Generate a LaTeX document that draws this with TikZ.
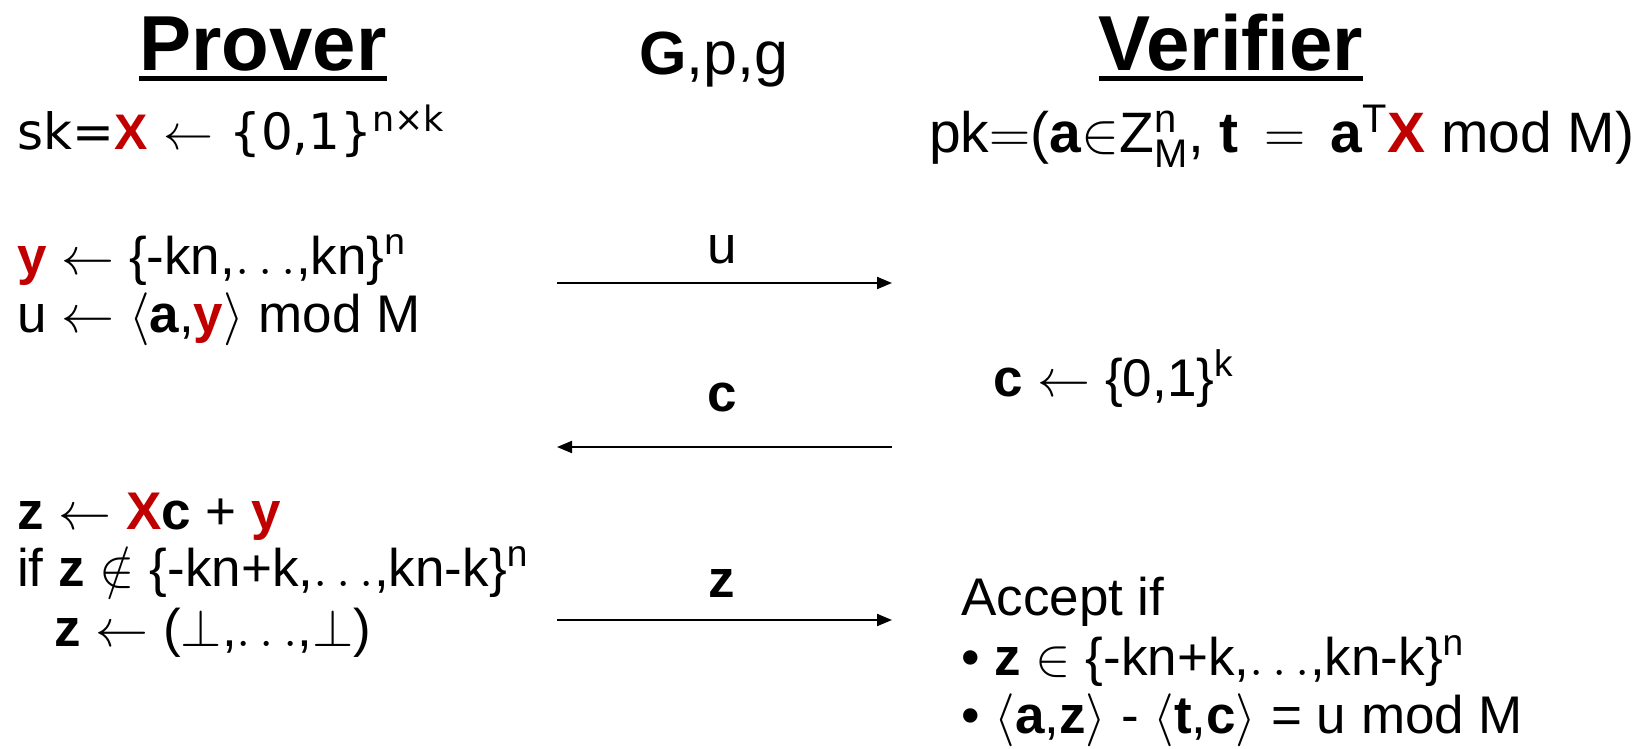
\RequirePackage{fix-cm}
\documentclass[tikz,border=0pt]{standalone}
\usepackage{amsmath}
\usepackage{fontspec}
\setmainfont{Liberation Sans}
\newfontfamily\keyfont{DejaVu Sans}
\usetikzlibrary{arrows.meta}
\definecolor{secret}{RGB}{192,0,0}
\newcommand{\sx}[1]{{\color{secret}\textbf{#1}}}
\newcommand{\bfa}[1]{{\fontspec{Liberation Sans}\bfseries #1}}
\newcommand{\la}{\ensuremath{\leftarrow}}
\begin{document}
\begin{tikzpicture}[x=1pt,y=-1pt,
  txt/.style={anchor=base west,inner sep=0pt,font=\fontsize{53}{63}\selectfont},
  keytxt/.style={anchor=base west,inner sep=0pt,font=\fontsize{50}{60}\selectfont\keyfont},
  pktxt/.style={anchor=base west,inner sep=0pt,font=\fontsize{57}{67}\selectfont},
  head/.style={anchor=base,inner sep=0pt,font=\fontsize{78}{90}\selectfont\bfseries},
  lbl/.style={anchor=base,inner sep=0pt,font=\fontsize{53}{63}\selectfont},
  ul/.style={line width=5pt},
  msg/.style={line width=2pt,-{Triangle[length=15pt,width=12pt]}}]
\useasboundingbox (0,0) rectangle (1642,749);
% headers
\node[head] (prover) at (263,71) {Prover};
\draw[ul] ([yshift=-8pt]prover.base west) -- ([yshift=-8pt]prover.base east);
\node[head] (verifier) at (1231,71) {Verifier};
\draw[ul] ([yshift=-8pt]verifier.base west) -- ([yshift=-8pt]verifier.base east);
\node[txt,font=\fontsize{61}{70}\selectfont] (params) at (639,75) {\textbf{G},p,g};
% keys
\node[keytxt] (sk) at (17,150) {sk=\bfa{\color{secret}X} \la{} \{0,1\}\textsuperscript{n×k}};
\node[pktxt] (pk) at (929,153) {pk$=$(\textbf{a}$\in$Z$^{\text{n}}_{\text{M}}$, \textbf{t} \,$=$\, \textbf{a}\textsuperscript{T}\sx{X} mod M)};
% prover commit
\node[txt] (ydraw) at (17,274) {\sx{y} \la{} \{-kn,$\ldots$,kn\}\textsuperscript{n}};
\node[txt] (ucomp) at (17,332) {u \la{} $\langle$\textbf{a},\sx{y}$\rangle$ mod M};
% verifier challenge
\node[txt] (cdraw) at (993,396) {\textbf{c} \la{} \{0,1\}\textsuperscript{k}};
% prover response
\node[txt] (zcomp) at (17,529) {\textbf{z} \la{} \sx{X}\textbf{c} + \sx{y}};
\node[txt] (zif) at (17,586) {if \textbf{z} $\notin$ \{-kn+k,$\ldots$,kn-k\}\textsuperscript{n}};
\node[txt] (zabort) at (54,646) {\textbf{z} \la{} ($\perp$,$\ldots$,$\perp$)};
% verifier check
\node[txt] (accept) at (961,615) {Accept if};
\node[txt] (chk1) at (961,675) {\textbullet{} \textbf{z} $\in$ \{-kn+k,$\ldots$,kn-k\}\textsuperscript{n}};
\node[txt] (chk2) at (961,733) {\textbullet{} $\langle$\textbf{a},\textbf{z}$\rangle$ - $\langle$\textbf{t},\textbf{c}$\rangle$ = u mod M};
% messages
\coordinate (uL) at (557,283); \coordinate (uR) at (892,283);
\coordinate (cL) at (557,447); \coordinate (cR) at (892,447);
\coordinate (zL) at (557,620); \coordinate (zR) at (892,620);
\draw[msg] (uL) -- (uR);
\draw[msg] (cR) -- (cL);
\draw[msg] (zL) -- (zR);
\node[lbl] (ulbl) at (722,263) {u};
\node[lbl] (clbl) at (722,411) {\textbf{c}};
\node[lbl] (zlbl) at (722,597) {\textbf{z}};
\end{tikzpicture}
\end{document}
